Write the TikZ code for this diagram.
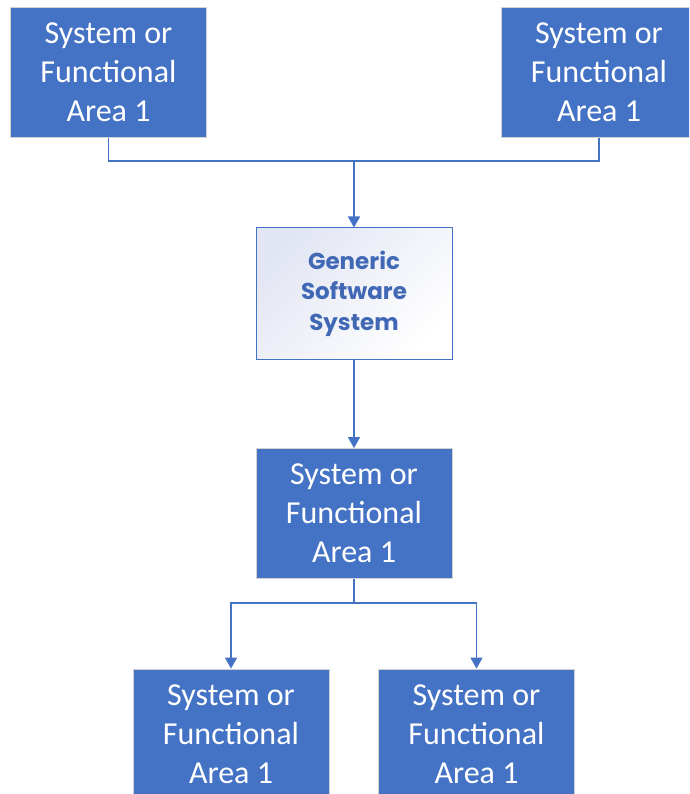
\documentclass[tikz,border=0pt]{standalone}
\usepackage{fontspec}
\setmainfont{Carlito}
\newfontfamily\genfont{Poppins}
\usetikzlibrary{arrows.meta}
\definecolor{offblue}{HTML}{4472C4}
\definecolor{shadeblue}{HTML}{E2E6F3}
\definecolor{gentext}{HTML}{4068B4}
\tikzset{
  bluebox/.style={rectangle, fill=offblue, draw=gray!35, line width=0.8pt, inner sep=0pt,
    minimum width=196pt, minimum height=130pt, align=center, text=white,
    font=\fontsize{32}{39}\selectfont},
  genbox/.style={rectangle, draw=offblue, line width=1pt, inner sep=0pt,
    minimum width=196pt, minimum height=131pt, align=center, text=gentext,
    top color=shadeblue, bottom color=white, shading angle=45,
    font=\genfont\bfseries\fontsize{23}{30.5}\selectfont},
  conn/.style={draw=offblue, line width=1.5pt},
  arr/.style={conn, -{Triangle[width=12pt,length=11pt]}}
}
\begin{document}
\begin{tikzpicture}[x=1pt,y=-1pt]
\useasboundingbox (0,0) rectangle (689,794);
\clip (0,0) rectangle (689,794);
\fill[white] (0,0) rectangle (689,794);
\node[bluebox] (tl) at (108.5,72.5) {System or\\Functional\\Area 1};
\node[bluebox] (tr) at (599,72.5) {System or\\Functional\\Area 1};
\node[genbox] (gen) at (354,293.5) {Generic\\Software\\System};
\node[bluebox] (mid) at (354,513.5) {System or\\Functional\\Area 1};
\node[bluebox] (bl) at (231,734) {System or\\Functional\\Area 1};
\node[bluebox] (br) at (476.5,734) {System or\\Functional\\Area 1};
\coordinate (j1) at (354,161);
\coordinate (j2) at (354,603);
\draw[conn] (tl.south) |- (j1) -| (tr.south);
\draw[arr] (j1) -- (gen.north);
\draw[arr] (gen.south) -- (mid.north);
\draw[conn] (mid.south) -- (j2);
\draw[arr] (j2) -| (bl.north);
\draw[arr] (j2) -| (br.north);
\end{tikzpicture}
\end{document}
